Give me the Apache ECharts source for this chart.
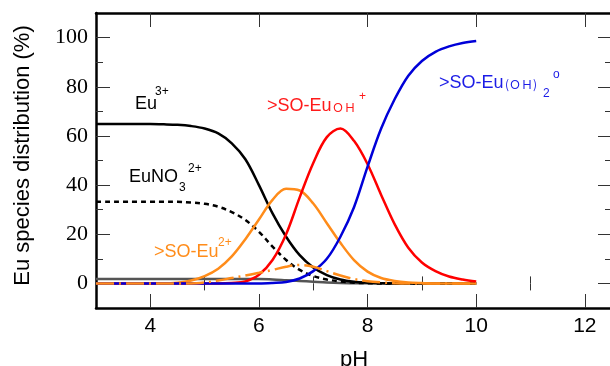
<!DOCTYPE html>
<html>
<head>
<meta charset="utf-8">
<script src="https://cdn.jsdelivr.net/npm/echarts@6/dist/echarts.min.js"></script>
<style>
  html, body { margin: 0; padding: 0; background: #fff; }
  #chart { width: 610px; height: 366px; }
</style>
</head>
<body>
<div id="chart"></div>
<script>
// pH grid of the speciation calculation
const pH = [3, 3.25, 3.5, 3.75, 4, 4.25, 4.5, 4.75, 5, 5.25, 5.5, 5.75, 6, 6.25, 6.5,
            6.75, 7, 7.25, 7.5, 7.75, 8, 8.25, 8.5, 8.75, 9, 9.25, 9.5, 9.75, 10];

// Species distribution (%) at each pH
const euFree = [64.8, 64.8, 64.8, 64.8, 64.8, 64.7, 64.5, 64.0, 63.0, 61.0, 57.0, 50.5, 40.0, 28.5, 19.0,
                11.5, 6.5, 3.4, 1.6, 0.7, 0.3, 0.1, 0, 0, 0, 0, 0, 0, 0];
const euNitrate = [33.2, 33.2, 33.2, 33.2, 33.2, 33.2, 33.2, 32.9, 32.4, 31.2, 29.0, 25.8, 21.0, 15.0, 9.5,
                   5.5, 3.0, 1.6, 0.8, 0.3, 0.1, 0, 0, 0, 0, 0, 0, 0, 0];
const soEu = [0, 0, 0, 0, 0, 0, 0.3, 1.2, 3.0, 6.0, 11.0, 18.0, 26.0, 34.0, 38.5,
              37.8, 32.5, 24.5, 16.5, 9.5, 4.8, 2.2, 1.0, 0.4, 0.15, 0, 0, 0, 0];
const soEuNitrate = [0, 0, 0, 0, 0, 0, 0, 0, 0.4, 1.2, 2.2, 3.2, 4.3, 5.5, 6.8,
                     7.5, 6.8, 5.0, 3.2, 1.8, 0.9, 0.4, 0.1, 0, 0, 0, 0, 0, 0];
const soEuOH = [0, 0, 0, 0, 0, 0, 0, 0, 0, 0, 0.2, 0.8, 3.5, 9.5, 20.0,
                35.0, 49.0, 59.5, 63.0, 58.0, 48.5, 36.0, 24.0, 14.5, 8.5, 5.0, 2.8, 1.6, 0.8];
const soEuOH2 = [0, 0, 0, 0, 0, 0, 0, 0, 0, 0, 0, 0, 0, 0.2, 0.6,
                 2.0, 5.0, 10.0, 19.0, 31.0, 47.5, 63.0, 75.0, 84.5, 90.5, 94.2, 96.4, 97.8, 98.6];
const euMinor = [1.8, 1.8, 1.8, 1.8, 1.8, 1.8, 1.8, 1.8, 1.8, 1.8, 1.8, 1.8, 1.8, 1.6, 1.3,
                 1.0, 0.7, 0.4, 0.2, 0.1, 0.05, 0.05, 0.05, 0.05, 0.05, 0.05, 0.05, 0.05, 0.05];

// Tick positions
const xMajorTicks = [4, 6, 8, 10, 12];
const xMinorTicks = [5, 7, 9, 11];
const yMajorTicks = [0, 20, 40, 60, 80, 100];
const yMinorTicks = [10, 30, 50, 70, 90];

const pairs = (ys) => pH.map((x, i) => [x, ys[i]]);

const SANS = 'Liberation Sans';
const SERIF = 'Liberation Serif, Times New Roman, serif';
const CJK = 'Noto Sans CJK JP';

const frameLine = { show: true, onZero: false, lineStyle: { color: '#000', width: 2.5 } };
const tickStyle = { color: '#333', width: 1 };

function xAxisOf(position, ticks, len, withLine, withLabels) {
  return {
    type: 'value', position, min: 3, max: 12.5,
    axisLine: withLine ? frameLine : { show: false },
    axisTick: { show: true, inside: true, length: len, customValues: ticks, lineStyle: tickStyle },
    axisLabel: withLabels
      ? { show: true, customValues: xMajorTicks, margin: 8, fontFamily: SANS, fontSize: 21, color: '#000' }
      : { show: false },
    splitLine: { show: false }
  };
}
function yAxisOf(position, ticks, len, withLine, withLabels) {
  return {
    type: 'value', position, min: -10, max: 110,
    axisLine: withLine ? frameLine : { show: false },
    axisTick: { show: true, inside: true, length: len, customValues: ticks, lineStyle: tickStyle },
    axisLabel: withLabels
      ? { show: true, customValues: yMajorTicks, margin: 8, fontFamily: SERIF, fontSize: 22, color: '#000' }
      : { show: false },
    splitLine: { show: false }
  };
}

const xBottom = xAxisOf('bottom', xMajorTicks, 14, true, true);
Object.assign(xBottom, {
  name: 'pH', nameLocation: 'middle', nameGap: 41,
  nameTextStyle: { fontFamily: SANS, fontSize: 22, color: '#000' }
});
const yLeft = yAxisOf('left', yMajorTicks, 14, true, true);
Object.assign(yLeft, {
  name: 'Eu species distribution (%)', nameLocation: 'middle', nameGap: 62,
  nameTextStyle: { fontFamily: SANS, fontSize: 22, color: '#000', padding: [0, 0, 0, 10] }
});

function line(name, data, color, type, z) {
  return {
    name, type: 'line', data: pairs(data), xAxisIndex: 0, yAxisIndex: 0,
    showSymbol: false, smooth: 0.35, z,
    lineStyle: { color, width: 2.5, type, cap: 'butt' },
    emphasis: { disabled: true }
  };
}

// Annotation text pieces
function txt(text, x, y, font, fill) {
  return { type: 'text', x, y, z: 100,
    style: { text, font, fill, align: 'left', verticalAlign: 'middle' } };
}
const big = `18px '${SANS}'`;
const small = `12px '${SANS}'`;
const BLUE = '#1c1ce6', RED = '#ff1a1a', ORANGE = '#ff8c1a';

const chart = echarts.init(document.getElementById('chart'), null, { renderer: 'canvas' });
chart.setOption({
  animation: false,
  backgroundColor: '#fff',
  grid: { left: 96, top: 13, right: -2, bottom: 58, containLabel: false, outerBoundsMode: 'none' },
  xAxis: [
    xBottom,
    xAxisOf('bottom', xMinorTicks, 7, false, false),
    xAxisOf('top', xMajorTicks, 14, true, false),
    xAxisOf('top', xMinorTicks, 7, false, false)
  ],
  yAxis: [
    yLeft,
    yAxisOf('left', yMinorTicks, 7, false, false),
    yAxisOf('right', yMajorTicks, 14, true, false),
    yAxisOf('right', yMinorTicks, 7, false, false)
  ],
  series: [
    line('minor Eu', euMinor, '#555', 'solid', 1),
    line('Eu3+', euFree, '#000', 'solid', 2),
    line('EuNO3 2+', euNitrate, '#000', [5, 4], 3),
    line('>SO-Eu2+', soEu, ORANGE, 'solid', 4),
    line('>SO-EuOH+', soEuOH, '#ff0000', 'solid', 5),
    line('>SO-Eu(OH)2', soEuOH2, '#0000d8', 'solid', 6),
    line('>SO-EuNO3+', soEuNitrate, ORANGE, [18, 5, 2, 5], 7)
  ],
  graphic: [
    txt('Eu', 135, 104, big, '#000'),
    txt('3+', 155, 92, small, '#000'),
    txt('EuNO', 129, 177, big, '#000'),
    txt('3', 179, 188, small, '#000'),
    txt('2+', 188, 169, small, '#000'),
    txt('>SO-Eu', 154, 252, big, ORANGE),
    txt('2+', 218, 243, small, ORANGE),
    txt('>SO-Eu', 267, 106, big, RED),
    txt('ＯＨ', 332, 107, `12px '${CJK}'`, RED),
    txt('+', 359, 97, small, RED),
    txt('>SO-Eu', 439, 83, big, BLUE),
    txt('(ＯＨ)', 505, 84, `12px '${CJK}'`, BLUE),
    txt('2', 543, 94, small, BLUE),
    txt('o', 553, 75, small, BLUE)
  ]
});
</script>
</body>
</html>
